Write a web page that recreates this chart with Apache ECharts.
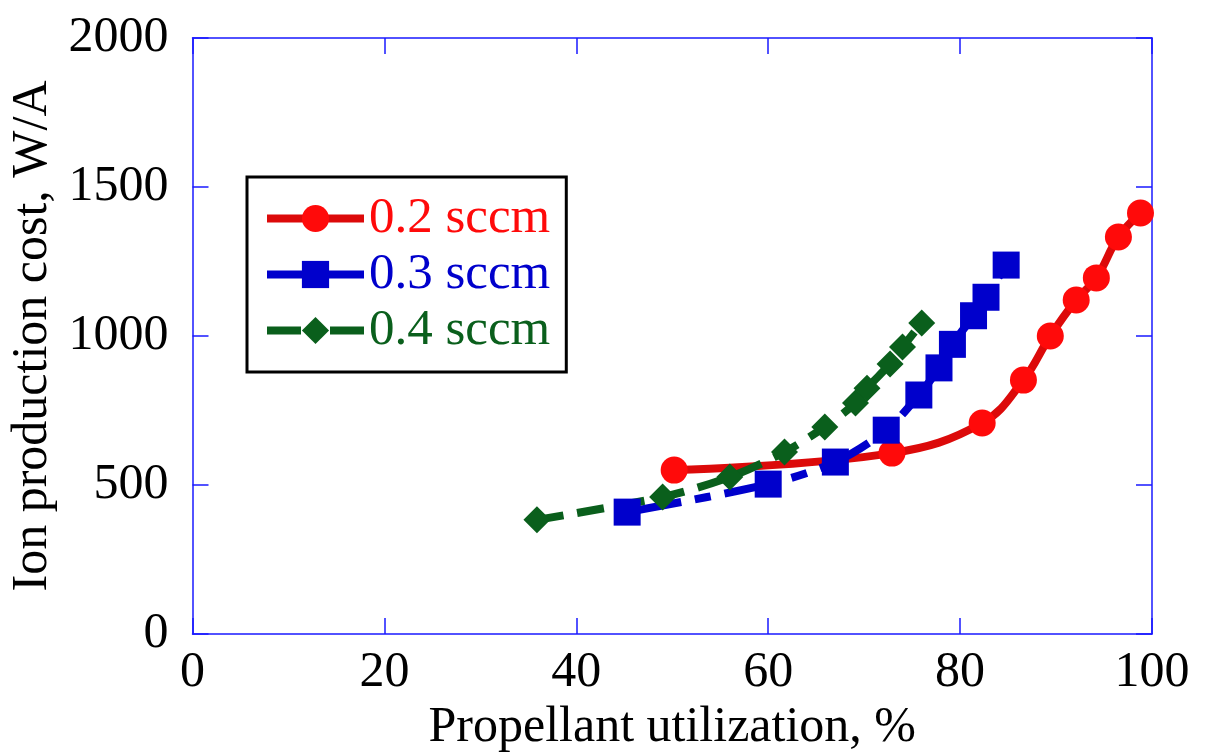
<!DOCTYPE html>
<html>
<head>
<meta charset="utf-8">
<script src="https://cdn.jsdelivr.net/npm/echarts@6/dist/echarts.min.js"></script>
<style>
html,body{margin:0;padding:0;background:#fff;}
#chart{width:1210px;height:756px;}
</style>
</head>
<body>
<div id="chart"></div>
<script>
// Data
const seriesNames = ['0.2 sccm', '0.3 sccm', '0.4 sccm'];
const util02 = [50.2, 72.9, 82.3, 86.6, 89.4, 92.1, 94.2, 96.5, 98.8];
const cost02 = [550, 607, 708, 852, 1000, 1121, 1195, 1332, 1413];
const util03 = [45.3, 60.0, 67.0, 72.3, 75.7, 77.8, 79.2, 81.4, 82.7, 84.8];
const cost03 = [409, 503, 577, 684, 802, 893, 972, 1068, 1130, 1238];
const util04 = [35.9, 49.0, 56.0, 61.7, 65.9, 69.1, 70.3, 72.7, 74.0, 76.0];
const cost04 = [383, 460, 527, 611, 695, 775, 825, 906, 963, 1044];
const xTitle = 'Propellant utilization, %';
const yTitle = 'Ion production cost, W/A';

const pair = (xs, ys) => xs.map((x, i) => [x, ys[i]]);
const FONT = 'Liberation Serif';
const AXIS_BLUE = '#1a1aff';
const RED = '#ff0a0a', RED_LINE = '#dc0a0a', BLUE = '#0000cc', GREEN = '#0a5f1c';

const chart = echarts.init(document.getElementById('chart'), null, {renderer: 'canvas'});

const baseX = {
  type: 'value', min: 0, max: 100, interval: 20,
  axisLine: {show: true, onZero: false, lineStyle: {color: AXIS_BLUE, width: 1.5}},
  axisTick: {show: true, inside: true, length: 16, lineStyle: {color: AXIS_BLUE, width: 1.5}},
  splitLine: {show: false}
};
const baseY = {
  type: 'value', min: 0, max: 2000, interval: 500,
  axisLine: {show: true, onZero: false, lineStyle: {color: AXIS_BLUE, width: 1.5}},
  axisTick: {show: true, inside: true, length: 16, lineStyle: {color: AXIS_BLUE, width: 1.5}},
  splitLine: {show: false}
};

chart.setOption({
  backgroundColor: '#fff',
  animation: false,
  grid: {left: 192.5, right: 58, top: 38, bottom: 122, containLabel: false, outerBoundsMode: 'none'},
  legend: {
    orient: 'vertical', left: 247, top: 177,
    backgroundColor: '#fff', borderColor: '#000', borderWidth: 3,
    padding: [16, 16, 16, 16],
    itemWidth: 97, itemHeight: 34, itemGap: 5,
    textStyle: {fontFamily: FONT, fontSize: 51, lineHeight: 50},
    data: [
      {name: seriesNames[0], textStyle: {color: RED}, lineStyle: {width: 8, type: 'solid', color: RED_LINE}},
      {name: seriesNames[1], textStyle: {color: BLUE}, lineStyle: {width: 8, type: 'solid', color: BLUE}},
      {name: seriesNames[2], textStyle: {color: GREEN}, lineStyle: {width: 8, type: [34, 29, 34], color: GREEN}}
    ]
  },
  xAxis: [
    Object.assign({}, baseX, {
      position: 'bottom',
      name: xTitle, nameLocation: 'middle', nameGap: 56,
      nameTextStyle: {fontFamily: FONT, fontSize: 50, color: '#000'},
      axisLabel: {fontFamily: FONT, fontSize: 50, color: '#000', margin: 14, formatter: v => String(v)}
    }),
    Object.assign({}, baseX, {position: 'top', axisLabel: {show: false}})
  ],
  yAxis: [
    Object.assign({}, baseY, {
      position: 'left',
      name: yTitle, nameLocation: 'middle', nameGap: 132,
      nameTextStyle: {fontFamily: FONT, fontSize: 50, color: '#000'},
      axisLabel: {fontFamily: FONT, fontSize: 50, color: '#000', margin: 24, formatter: v => String(v)}
    }),
    Object.assign({}, baseY, {position: 'right', axisLabel: {show: false}})
  ],
  series: [
    {
      name: seriesNames[0], type: 'line', data: pair(util02, cost02),
      smooth: 0.4,
      symbol: 'circle', symbolSize: 27,
      itemStyle: {color: RED},
      lineStyle: {color: RED_LINE, width: 8}
    },
    {
      name: seriesNames[1], type: 'line', data: pair(util03, cost03),
      smooth: 0.3,
      symbol: 'rect', symbolSize: 27,
      itemStyle: {color: BLUE},
      lineStyle: {color: BLUE, width: 8, type: [55, 14, 16, 14], cap: 'butt'}
    },
    {
      name: seriesNames[2], type: 'line', data: pair(util04, cost04),
      smooth: 0.3,
      symbol: 'diamond', symbolSize: 27,
      itemStyle: {color: GREEN},
      lineStyle: {color: GREEN, width: 8, type: [27, 14], cap: 'butt'}
    }
  ]
});
</script>
</body>
</html>
